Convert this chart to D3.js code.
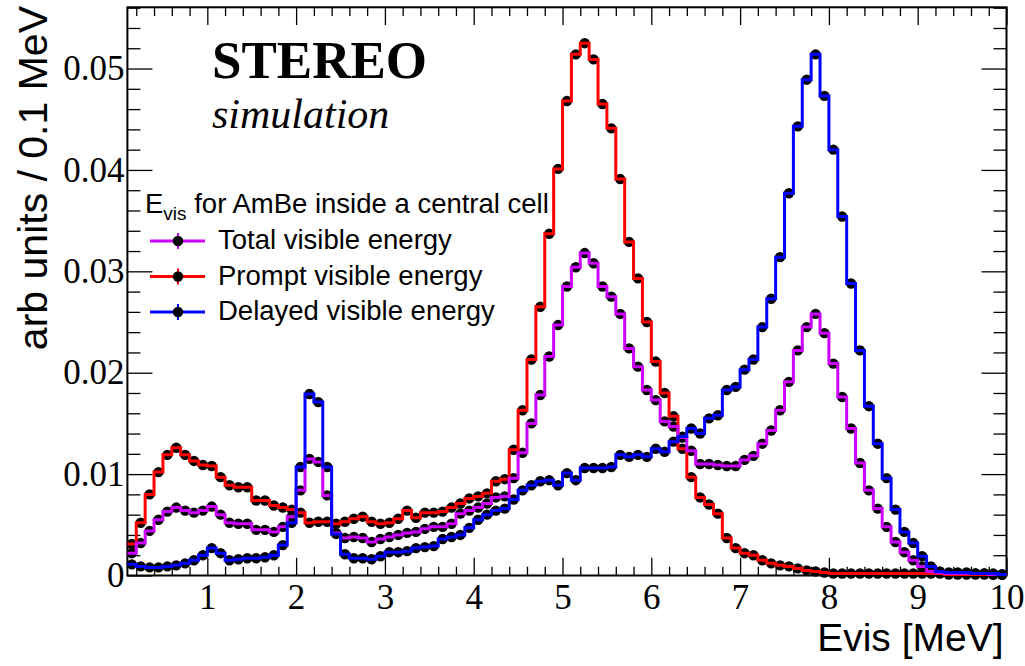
<!DOCTYPE html>
<html><head><meta charset="utf-8">
<script src="https://cdn.jsdelivr.net/npm/d3@7"></script>
<style>body{margin:0;background:#fff}</style>
</head><body>
<svg id="c" width="1025" height="666"></svg>
<script>
// ---- data ----
const binStart = 0.1, binWidth = 0.1; // Evis bins [MeV]
const promptEnergy = [
0.0031,0.0052,0.0080,0.0102,0.0119,0.0126,0.0119,0.0113,0.0109,0.0108,
0.0097,0.0089,0.0087,0.0087,0.0074,0.0074,0.0069,0.0067,0.0065,0.0062,
0.0052,0.0053,0.0053,0.0051,0.0053,0.0056,0.0058,0.0053,0.0051,0.0052,
0.0056,0.0064,0.0057,0.0062,0.0062,0.0063,0.0067,0.0071,0.0076,0.0078,
0.0081,0.0093,0.0095,0.0124,0.0163,0.0213,0.0265,0.0337,0.0401,0.0468,
0.0514,0.0525,0.0509,0.0465,0.0441,0.0391,0.0329,0.0293,0.0250,0.0211,
0.0180,0.0157,0.0125,0.0097,0.0077,0.0070,0.0061,0.0037,0.0027,0.0022,
0.0020,0.0015,0.0012,0.0010,0.0009,0.0007,0.0005,0.0004,0.0003,0.0002,
0.0002,0.0002,0.0002,0.0002,0.0002,0.0002,0.0002,0.0002,0.0002,0.0002,
0.0002,0.0002,0.0001,0.0001,0.0001,0.0001,0.0001,0.0001,0.0001];
const totalEnergy = [
0.0022,0.0032,0.0044,0.0055,0.0063,0.0067,0.0064,0.0062,0.0064,0.0068,
0.0060,0.0052,0.0051,0.0051,0.0045,0.0045,0.0043,0.0048,0.0058,0.0084,
0.0115,0.0112,0.0079,0.0042,0.0037,0.0038,0.0037,0.0033,0.0036,0.0038,
0.0040,0.0042,0.0043,0.0046,0.0048,0.0048,0.0051,0.0061,0.0064,0.0067,
0.0071,0.0077,0.0078,0.0096,0.0121,0.0150,0.0178,0.0216,0.0247,0.0285,
0.0304,0.0318,0.0308,0.0285,0.0275,0.0258,0.0224,0.0206,0.0183,0.0173,
0.0152,0.0147,0.0136,0.0123,0.0110,0.0110,0.0109,0.0108,0.0108,0.0114,
0.0118,0.0130,0.0143,0.0163,0.0191,0.0222,0.0245,0.0258,0.0239,0.0209,
0.0176,0.0145,0.0111,0.0084,0.0066,0.0048,0.0033,0.0023,0.0015,0.0009,
0.0004,0.0003,0.0002,0.0002,0.0002,0.0002,0.0002,0.0001,0.0001];
const delayedEnergy = [
0.0011,0.0009,0.0008,0.0008,0.0009,0.0010,0.0012,0.0015,0.0020,0.0027,
0.0022,0.0015,0.0016,0.0017,0.0017,0.0018,0.0020,0.0030,0.0052,0.0107,
0.0179,0.0171,0.0107,0.0041,0.0021,0.0017,0.0017,0.0016,0.0019,0.0023,
0.0023,0.0024,0.0027,0.0028,0.0029,0.0036,0.0038,0.0040,0.0047,0.0055,
0.0060,0.0064,0.0066,0.0075,0.0084,0.0089,0.0093,0.0094,0.0089,0.0101,
0.0094,0.0106,0.0106,0.0106,0.0107,0.0119,0.0117,0.0119,0.0117,0.0125,
0.0122,0.0132,0.0137,0.0145,0.0140,0.0155,0.0158,0.0183,0.0186,0.0203,
0.0213,0.0245,0.0273,0.0314,0.0377,0.0443,0.0489,0.0514,0.0473,0.0420,
0.0354,0.0288,0.0222,0.0167,0.0130,0.0096,0.0065,0.0043,0.0032,0.0019,
0.0009,0.0004,0.0003,0.0003,0.0003,0.0002,0.0002,0.0002,0.0001];
const seriesLabels = ["Total visible energy","Prompt visible energy","Delayed visible energy"];
const seriesColors = ["#cc00ff","#ff0000","#0000ff"];
const xTickValues = [1,2,3,4,5,6,7,8,9,10];
const yTickValues = [0,0.01,0.02,0.03,0.04,0.05];
const xTitle = "Evis [MeV]";
const yTitle = "arb units / 0.1 MeV";

// ---- layout ----
const L = 127.4, R = 1006.5, T = 7.3, B = 575.5;
const svg = d3.select("#c");
const x = d3.scaleLinear().domain([0.1, 10]).range([L, R]);
const y = d3.scaleLinear().domain([0, 0.05604]).range([B, T]);

const xMinor = d3.range(1, 50).map(i => +(i * 0.2).toFixed(1)).filter(v => v > 0.1 && Math.abs(v - Math.round(v)) > 1e-6);
const yMinor = d3.range(1, 29).map(i => +(i * 0.002).toFixed(3)).filter(v => Math.abs(v * 100 - Math.round(v * 100)) > 1e-6);

function styleAxis(g) {
  g.select(".domain").remove();
  g.selectAll(".tick line").attr("stroke", "#000").attr("stroke-width", 1.3);
}
const tickFont = "'Liberation Serif', 'Times New Roman', serif";
// bottom
svg.append("g").attr("transform", `translate(0,${B})`)
  .call(d3.axisBottom(x).tickValues(xTickValues).tickSizeInner(-17.7).tickSizeOuter(0).tickPadding(9).tickFormat(d3.format("d")))
  .call(styleAxis)
  .call(g => g.selectAll("text").attr("font-family", tickFont).attr("font-size", 35).attr("fill", "#000"));
svg.append("g").attr("transform", `translate(0,${B})`)
  .call(d3.axisBottom(x).tickValues(xMinor).tickSizeInner(-8.8).tickSizeOuter(0).tickFormat(""))
  .call(styleAxis);
// top
svg.append("g").attr("transform", `translate(0,${T})`)
  .call(d3.axisTop(x).tickValues(xTickValues).tickSizeInner(-17.7).tickSizeOuter(0).tickFormat(""))
  .call(styleAxis);
svg.append("g").attr("transform", `translate(0,${T})`)
  .call(d3.axisTop(x).tickValues(xMinor).tickSizeInner(-8.8).tickSizeOuter(0).tickFormat(""))
  .call(styleAxis);
// left
svg.append("g").attr("transform", `translate(${L},0)`)
  .call(d3.axisLeft(y).tickValues(yTickValues).tickSizeInner(-25).tickSizeOuter(0).tickPadding(3)
    .tickFormat(d => d === 0 ? "0" : d.toFixed(2)))
  .call(styleAxis)
  .call(g => g.selectAll("text").attr("font-family", tickFont).attr("font-size", 35).attr("fill", "#000"));
svg.append("g").attr("transform", `translate(${L},0)`)
  .call(d3.axisLeft(y).tickValues(yMinor).tickSizeInner(-13).tickSizeOuter(0).tickFormat(""))
  .call(styleAxis);
// right
svg.append("g").attr("transform", `translate(${R},0)`)
  .call(d3.axisRight(y).tickValues(yTickValues).tickSizeInner(-25).tickSizeOuter(0).tickFormat(""))
  .call(styleAxis);
svg.append("g").attr("transform", `translate(${R},0)`)
  .call(d3.axisRight(y).tickValues(yMinor).tickSizeInner(-13).tickSizeOuter(0).tickFormat(""))
  .call(styleAxis);

// frame
svg.append("rect").attr("x", L).attr("y", T).attr("width", R - L).attr("height", B - T)
  .attr("fill", "none").attr("stroke", "#000").attr("stroke-width", 2);

// ---- histograms ----
const allSeries = [totalEnergy, promptEnergy, delayedEnergy];
const drawOrder = [1, 0, 2];
const plot = svg.append("g");
function binsOf(vals) {
  return vals.map((v, i) => ({ lo: binStart + i * binWidth, hi: binStart + (i + 1) * binWidth, c: binStart + (i + 0.5) * binWidth, v }));
}
// markers
drawOrder.forEach(si => {
  plot.append("g").selectAll("circle").data(binsOf(allSeries[si])).join("circle")
    .attr("cx", d => x(d.c)).attr("cy", d => y(d.v)).attr("r", 5.2).attr("fill", "#000");
});
// step lines
drawOrder.forEach(si => {
  const pts = [];
  binsOf(allSeries[si]).forEach(b => { pts.push([b.lo, b.v]); pts.push([b.hi, b.v]); });
  const line = d3.line().x(p => x(p[0])).y(p => y(p[1]));
  plot.append("path").attr("d", line(pts)).attr("fill", "none")
    .attr("stroke", seriesColors[si]).attr("stroke-width", 3).attr("stroke-linejoin", "miter");
});

// ---- titles ----
const sans = "'Liberation Sans', Arial, sans-serif";
svg.append("text").attr("x", R - 3).attr("y", 651).attr("text-anchor", "end")
  .attr("font-family", sans).attr("font-size", 39).text(xTitle);
svg.append("text").attr("transform", "translate(47,6) rotate(-90)").attr("text-anchor", "end")
  .attr("font-family", sans).attr("font-size", 41).text(yTitle);

svg.append("text").attr("x", 212).attr("y", 78).attr("font-family", tickFont)
  .attr("font-weight", "bold").attr("font-size", 53).text("STEREO");
svg.append("text").attr("x", 212).attr("y", 128).attr("font-family", tickFont)
  .attr("font-style", "italic").attr("font-size", 42).text("simulation");

// ---- legend ----
const lg = svg.append("g").attr("font-family", sans).attr("font-size", 27.5);
const hdr = lg.append("text").attr("x", 145).attr("y", 213);
hdr.append("tspan").text("E");
hdr.append("tspan").attr("font-size", 19).attr("dy", 7).text("vis");
hdr.append("tspan").attr("dy", -7).text(" for AmBe inside a central cell");
const legendY = [241, 276.5, 312];
seriesLabels.forEach((lab, i) => {
  const yy = legendY[i];
  lg.append("line").attr("x1", 150).attr("x2", 205).attr("y1", yy).attr("y2", yy)
    .attr("stroke", seriesColors[i]).attr("stroke-width", 3);
  lg.append("line").attr("x1", 178).attr("x2", 178).attr("y1", yy - 8).attr("y2", yy + 8)
    .attr("stroke", seriesColors[i]).attr("stroke-width", 2);
  lg.append("circle").attr("cx", 178).attr("cy", yy).attr("r", 5.2).attr("fill", "#000");
  lg.append("text").attr("x", 218).attr("y", yy + 8).text(lab);
});
</script>
</body></html>
